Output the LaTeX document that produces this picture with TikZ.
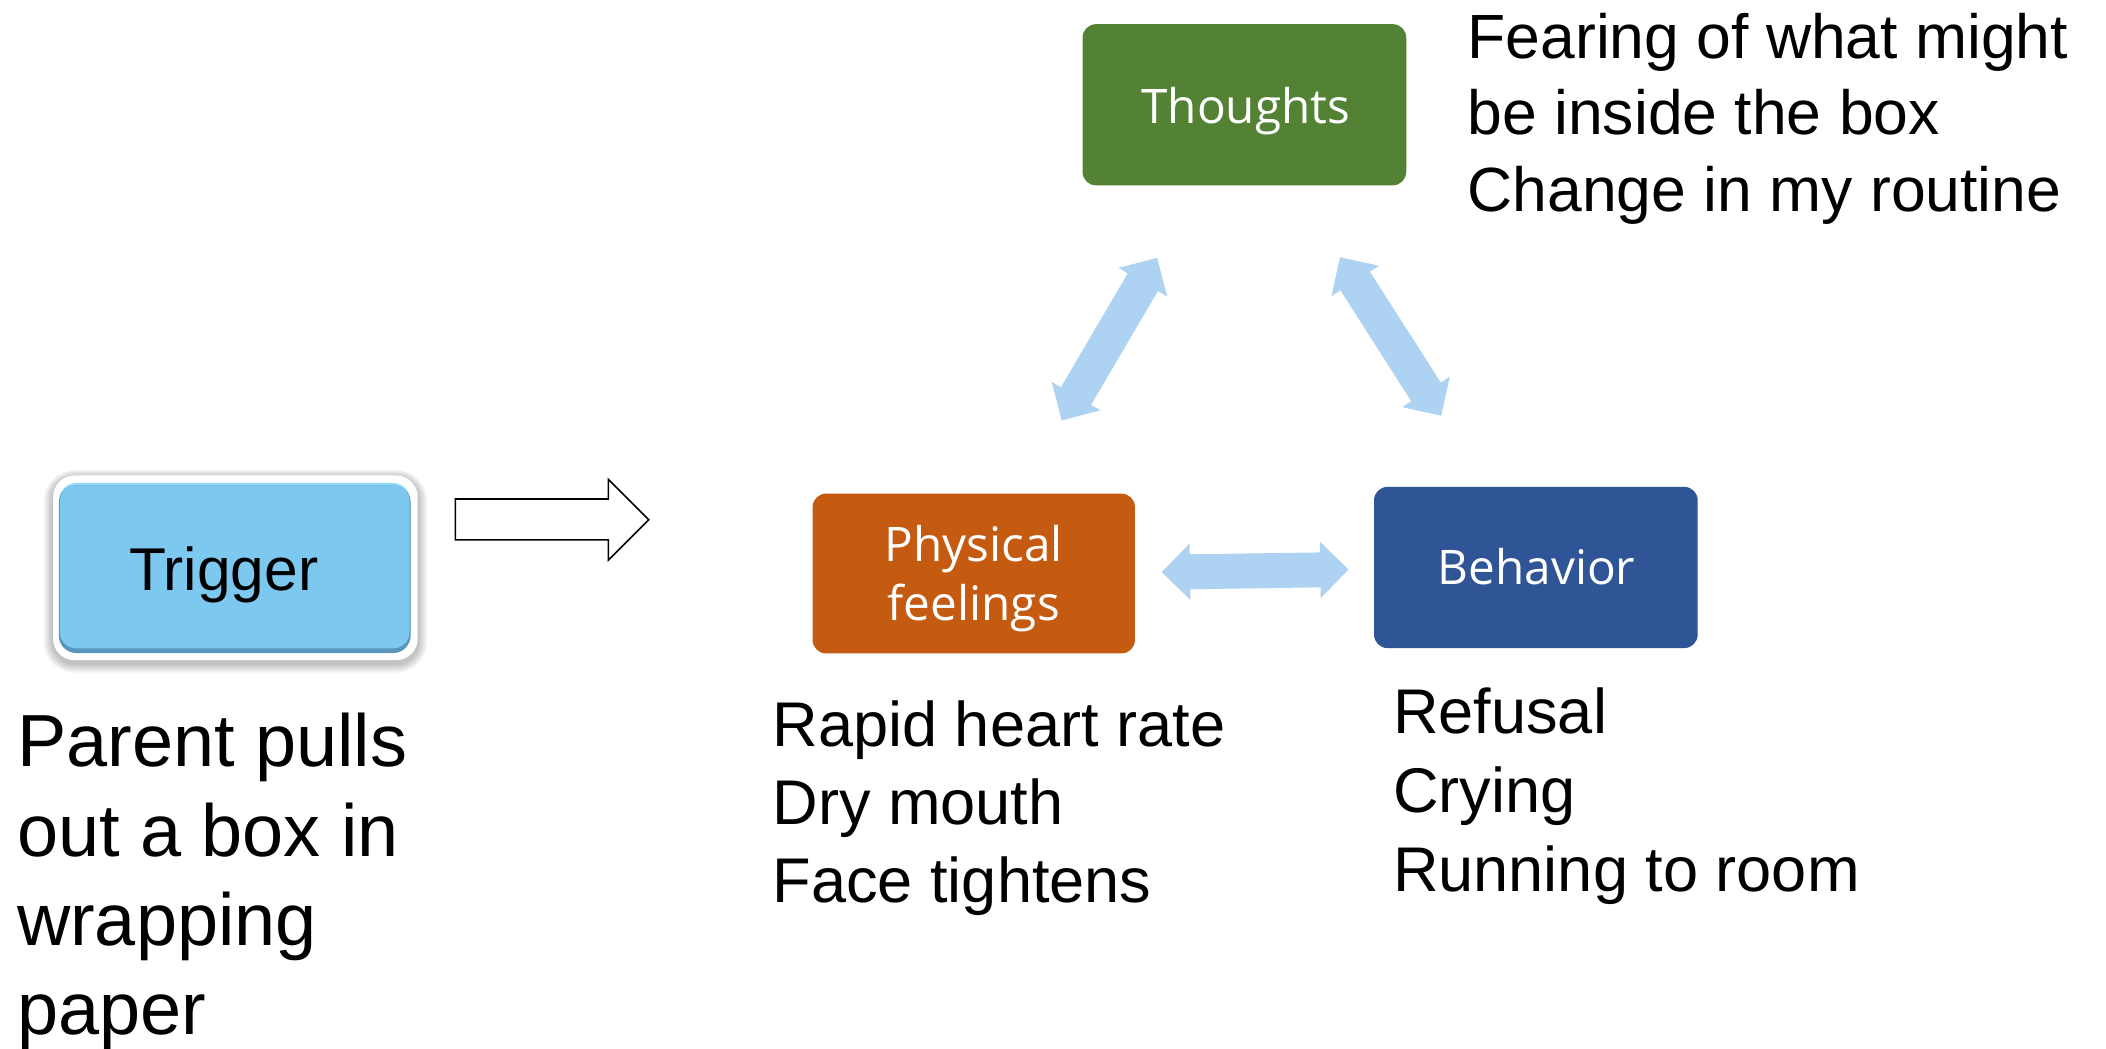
\documentclass[tikz,border=0pt]{standalone}
\usepackage{fontspec}
\setmainfont{Liberation Sans}
\newfontfamily\boxfont{Open Sans}
\usetikzlibrary{calc}
\definecolor{thoughtgreen}{RGB}{84,130,53}
\definecolor{physorange}{RGB}{197,90,17}
\definecolor{behavblue}{RGB}{47,85,151}
\definecolor{arrowblue}{RGB}{173,210,242}
\definecolor{trigblue}{RGB}{125,200,238}
\definecolor{trigdark}{RGB}{88,150,190}
\definecolor{triglight}{RGB}{142,216,252}
\tikzset{
  boxnode/.style={rounded corners=10pt, inner sep=0pt, draw=none},
  boxlabel/.style={text=white, font=\boxfont\fontsize{35.5}{43}\selectfont, anchor=base, inner sep=0pt},
  bodytext/.style={anchor=base west, inner sep=0pt, text=black},
  hollowarrow/.style={draw=black, line width=1.2pt, fill=white, line join=miter},
}
\newcommand{\dblarrow}[2]{%
  \coordinate (#1-h) at ($(#1)!21pt!(#2)$);
  \coordinate (#2-h) at ($(#2)!21pt!(#1)$);
  \fill[arrowblue] (#1)
    -- ($(#1-h)!21pt!90:(#2)$) -- ($(#1-h)!13pt!90:(#2)$)
    -- ($(#2-h)!13pt!-90:(#1)$) -- ($(#2-h)!21pt!-90:(#1)$)
    -- (#2)
    -- ($(#2-h)!21pt!90:(#1)$) -- ($(#2-h)!13pt!90:(#1)$)
    -- ($(#1-h)!13pt!-90:(#2)$) -- ($(#1-h)!21pt!-90:(#2)$)
    -- cycle;
}
\begin{document}
\begin{tikzpicture}[x=1pt,y=-1pt]
\useasboundingbox (0,0) rectangle (1568,781);
\fill[white] (0,0) rectangle (1568,781);

% ---------- Trigger ----------
% soft shadow
\foreach \g in {1,2,...,7}{
  \fill[black, opacity=0.035, rounded corners={16pt+\g pt}]
    ($(39.5,355.5)+(-\g,-\g*0.8)$) rectangle ($(311,494)+(\g,\g)$);
}
\node[fill=white, rounded corners=16pt, minimum width=271.5pt, minimum height=137.5pt, inner sep=0pt]
      (trigframe) at (175.25,422.75) {};
\node[fill=triglight, rounded corners=13pt, minimum width=261.5pt, minimum height=126.4pt, inner sep=0pt]
      (trigger) at (174.75,422.8) {};
\fill[trigdark, rounded corners=13pt]
      ($(trigger.north west)+(0,2)$) rectangle (trigger.south east);
\fill[trigblue, rounded corners=12pt]
      ($(trigger.north west)+(0.8,2)$) rectangle ($(trigger.south east)+(-0.8,-3.5)$);
\node[bodytext, anchor=base, font=\fontsize{45}{54}\selectfont] (trigtext) at (166.5,439.5) {Trigger};

% hollow arrow
\coordinate (ha) at (339,386.75);
\draw[hollowarrow] (339,371.5) -- (453,371.5) -- (453,357) -- (483,387) -- (453,417) -- (453,402) -- (339,402) -- cycle;

% ---------- boxes ----------
\node[boxnode, fill=thoughtgreen, minimum width=241pt, minimum height=120pt] (thoughts) at (926.5,78) {};
\node[boxnode, fill=physorange, minimum width=240pt, minimum height=119pt] (phys) at (725,427) {};
\node[boxnode, fill=behavblue, minimum width=241pt, minimum height=120pt] (behav) at (1143.5,422.5) {};

\node[boxlabel] (thoughtslbl) at (927.5,92) {Thoughts};
\node[boxlabel] (physlbl1) at (725,418) {Physical};
\node[boxlabel] (physlbl2) at (725,462) {feelings};
\node[boxlabel] (behavlbl) at (1144,435.5) {Behavior};

% ---------- double arrows ----------
\coordinate (tpA) at (861.5,192);
\coordinate (tpB) at (790.5,313);
\coordinate (tbA) at (997.7,191.5);
\coordinate (tbB) at (1073,309.5);
\coordinate (pbA) at (865,426);
\coordinate (pbB) at (1004,424);
\dblarrow{tpA}{tpB}
\dblarrow{tbA}{tbB}
\dblarrow{pbA}{pbB}

% ---------- texts ----------
\begin{scope}[every node/.style={bodytext, font=\fontsize{55}{66}\selectfont}]
\node (par1) at (12.5,571) {Parent pulls};
\node (par2) at (12.5,638) {out a box in};
\node (par3) at (12.5,704) {wrapping};
\node (par4) at (12.5,770) {paper};
\end{scope}

\begin{scope}[every node/.style={bodytext, font=\fontsize{46.5}{57}\selectfont}]
\node (fear1) at (1092.5,43.5) {Fearing of what might};
\node (fear2) at (1092.5,100.5) {be inside the box};
\node (fear3) at (1092.5,157.5) {Change in my routine};
\end{scope}

\begin{scope}[every node/.style={bodytext, font=\fontsize{47}{58}\selectfont}]
\node (rap1) at (575,556) {Rapid heart rate};
\node (rap2) at (575,614) {Dry mouth};
\node (rap3) at (575,672) {Face tightens};
\node (ref1) at (1037,546) {Refusal};
\node (ref2) at (1037,605) {Crying};
\node (ref3) at (1037,664) {Running to room};
\end{scope}
\end{tikzpicture}
\end{document}
